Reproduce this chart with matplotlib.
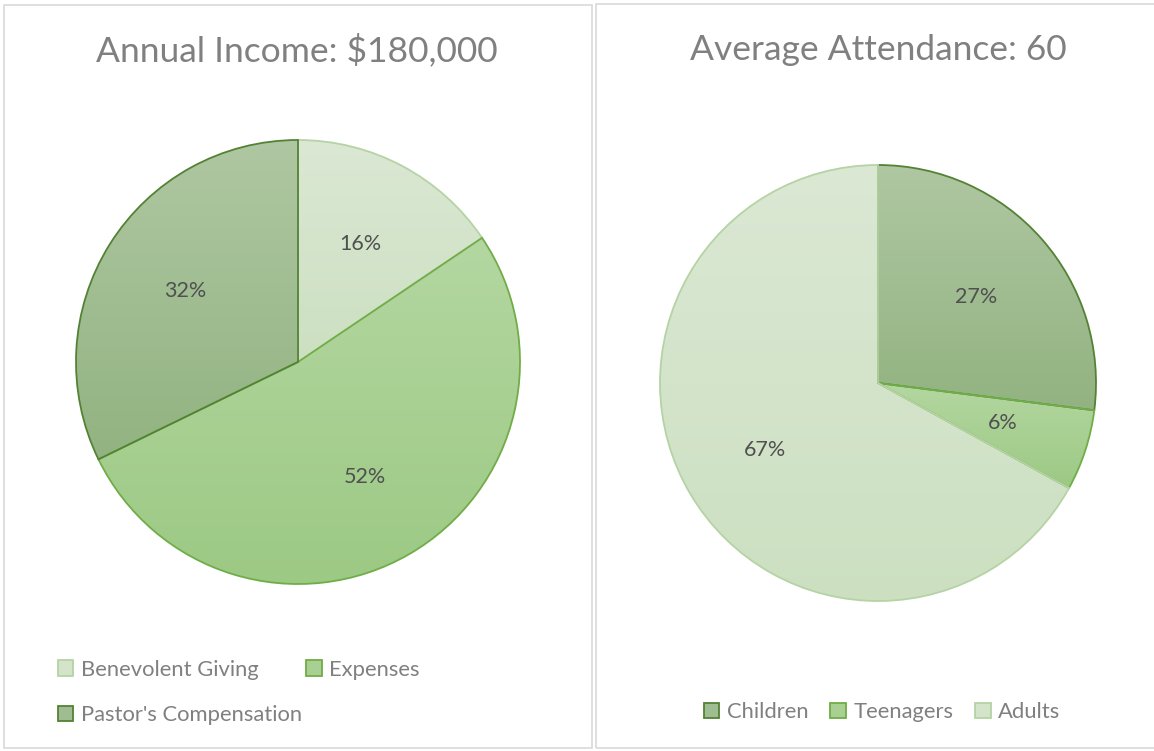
import numpy as np
import matplotlib
matplotlib.use("Agg")
import matplotlib.pyplot as plt
from matplotlib.colors import LinearSegmentedColormap
from matplotlib.patches import Rectangle, Patch

plt.rcParams['font.family'] = ['Lato', 'DejaVu Sans']

# Datos
income_labels = ["Benevolent Giving", "Expenses", "Pastor's Compensation"]
income_values = [28000, 94000, 58000]
income_title = "Annual Income: $180,000"

attend_labels = ["Children", "Teenagers", "Adults"]
attend_values = [27, 6, 67]
attend_title = "Average Attendance: 60"

# colores (arriba, abajo, borde)
light = ("#dbe8d4", "#cce0c1", "#b5d3a4")
mid = ("#b4d7a1", "#9cc984", "#70ad47")
dark = ("#afc7a2", "#92b381", "#548235")

W, H = 1154, 751
fig = plt.figure(figsize=(W / 100, H / 100), dpi=100)

text_gray = "#808080"
label_gray = "#505050"


def px_axes(cx, cy, r, pad=4):
    half = r + pad
    ax = fig.add_axes([(cx - half) / W, 1 - (cy + half) / H, 2 * half / W, 2 * half / H])
    lim = half / r
    return ax, lim


def gradient_pie(ax, lim, values, styles):
    wedges, texts, autotexts = ax.pie(
        values, startangle=90, counterclock=False, radius=1,
        autopct=lambda p: f"{p:.0f}%", pctdistance=0.6,
        wedgeprops=dict(facecolor="none", linewidth=1.3),
        textprops=dict(fontsize=15.5, color=label_gray))
    for w, (top, bot, edge) in zip(wedges, styles):
        w.set_edgecolor(edge)
        w.set_zorder(3)
        ext = w.get_path().get_extents()
        cmap = LinearSegmentedColormap.from_list("g", [top, bot])
        grad = np.linspace(0, 1, 256).reshape(-1, 1)
        im = ax.imshow(grad, cmap=cmap, origin="upper", aspect="auto",
                       extent=(ext.x0, ext.x1, ext.y0, ext.y1), zorder=1)
        im.set_clip_path(w)
    for t in autotexts:
        t.set_zorder(5)
    ax.set_xlim(-lim, lim)
    ax.set_ylim(-lim, lim)
    ax.set_aspect("equal")
    ax.axis("off")


def handles(labels, styles):
    out = []
    for lab, (top, bot, edge) in zip(labels, styles):
        fc = LinearSegmentedColormap.from_list("g", [top, bot])(0.5)
        out.append(Patch(facecolor=fc, edgecolor=edge, linewidth=1.3, label=lab))
    return out


# marcos de los paneles
fig.patches.append(Rectangle((4 / W, 1 - 748 / H), 588 / W, 743 / H, transform=fig.transFigure,
                             fill=False, edgecolor="#d9d9d9", linewidth=1.2))
fig.patches.append(Rectangle((596 / W, 1 - 748 / H), 600 / W, 744 / H, transform=fig.transFigure,
                             fill=False, edgecolor="#d9d9d9", linewidth=1.2))

# Panel izquierdo
income_styles = [light, mid, dark]
ax1, lim1 = px_axes(298, 362, 222)
gradient_pie(ax1, lim1, income_values, income_styles)
fig.text(297 / W, 1 - 50 / H, income_title, ha="center", va="center", fontsize=25.5, color=text_gray)
h1 = handles(income_labels, income_styles)
# la leyenda llena por columnas: reordenar para que quede por filas
fig.legend(handles=[h1[0], h1[2], h1[1]], ncol=2, frameon=False,
           loc="upper left", bbox_to_anchor=(38 / W, 1 - 640 / H), fontsize=15.8,
           labelcolor=text_gray, handlelength=0.7, handleheight=0.7, handletextpad=0.35,
           columnspacing=0.2, labelspacing=1.15)

# Panel derecho
attend_styles = [dark, mid, light]
ax2, lim2 = px_axes(878, 383, 218)
gradient_pie(ax2, lim2, attend_values, attend_styles)
fig.text(878 / W, 1 - 50 / H, attend_title, ha="center", va="center", fontsize=25.5, color=text_gray)
fig.legend(handles=handles(attend_labels, attend_styles), ncol=3, frameon=False,
           loc="center", bbox_to_anchor=(882 / W, 1 - 712 / H), fontsize=15.8,
           labelcolor=text_gray, handlelength=0.7, handleheight=0.7, handletextpad=0.35,
           columnspacing=1.0)

fig.savefig("out.png", dpi=100)
